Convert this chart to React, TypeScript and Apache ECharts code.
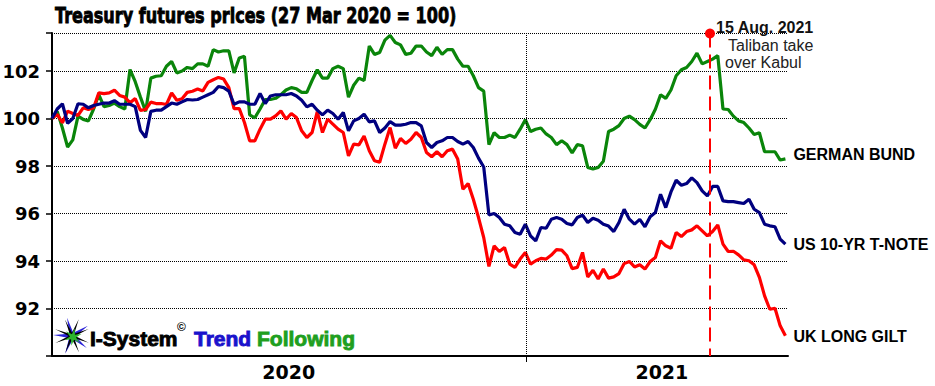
import React, { useEffect, useRef } from "react";
import * as echarts from "echarts";

// x values are days since 27 Mar 2020 (the index base date)
const STEP_DAYS = 4;
const SPAN_DAYS = 566;

const seriesNames = ["GERMAN BUND", "US 10-YR T-NOTE", "UK LONG GILT"];
const yearLabels = ["2020", "2021"];

const germanBund = [
  100.0, 100.3, 99.6, 98.8, 99.1, 100.1, 99.96, 99.9, 100.4, 101.0,
  100.5, 100.55, 100.65, 100.5, 100.4, 102.06, 101.55, 100.9, 100.3, 101.7,
  101.78, 101.8, 102.2, 102.4, 101.92, 102.0, 102.15, 102.1, 102.3, 102.3,
  102.2, 102.9, 102.8, 102.85, 102.85, 101.92, 102.55, 102.62, 100.15, 100.03,
  100.4, 100.8, 100.8, 100.85, 101.0, 101.2, 101.3, 101.25, 101.1, 101.1,
  101.6, 102.05, 101.7, 101.7, 102.1, 102.2, 102.1, 100.9, 101.4, 101.7,
  101.6, 103.05, 102.7, 102.78, 103.3, 103.5, 103.2, 103.1, 102.7, 102.75,
  103.05, 103.05, 102.8, 102.65, 103.0, 102.7, 102.9, 102.9, 102.5, 102.2,
  102.2, 101.8, 101.3, 101.15, 98.9, 99.4, 99.2, 99.2, 99.3, 99.2,
  99.55, 99.95, 99.45, 99.55, 99.6, 99.35, 99.2, 98.9, 99.06, 98.9,
  98.55, 98.9, 98.85, 97.94, 97.87, 97.94, 98.2, 99.45, 99.55, 99.7,
  100.0, 100.1, 99.95, 99.75, 99.6, 99.95, 100.39, 101.0, 100.85, 101.2,
  101.8, 102.05, 102.15, 102.4, 102.75, 102.3, 102.4, 102.5, 102.65, 100.4,
  100.38, 100.1, 99.9, 99.83, 99.6, 99.33, 99.4, 98.6, 98.6, 98.6,
  98.25, 98.3,
];

const usNote = [
  100.0, 100.4, 100.62, 99.8, 100.0, 100.62, 100.6, 100.45, 100.55, 100.6,
  100.65, 100.65, 100.75, 100.6, 100.6, 100.6, 100.5, 99.5, 99.2, 100.3,
  100.35, 100.35, 100.5, 100.65, 100.6, 100.7, 100.8, 100.78, 100.8, 100.9,
  101.0, 101.1, 101.35, 101.3, 101.15, 100.6, 100.7, 100.7, 100.6, 100.6,
  101.05, 100.63, 100.95, 101.0, 101.0, 101.0, 101.05, 100.95, 100.77, 100.49,
  100.6, 100.35, 100.15, 100.35, 100.21, 99.97, 100.25, 99.48, 99.9, 100.0,
  100.18, 99.86, 99.9, 99.41, 99.6, 99.87, 99.72, 99.72, 99.76, 99.83,
  99.83, 99.69, 98.99, 98.78, 98.99, 99.06, 99.2, 99.2, 99.03, 98.92,
  99.03, 98.78, 98.33, 97.96, 95.94, 96.0, 95.83, 95.55, 95.48, 95.2,
  95.13, 95.55, 95.06, 94.85, 95.41, 95.38, 95.76, 95.83, 95.76, 95.58,
  95.52, 95.83, 95.93, 95.62, 95.8, 95.72, 95.55, 95.47, 95.24, 95.62,
  96.18, 95.76, 95.55, 95.75, 95.44, 95.86, 96.04, 96.81, 96.25, 96.91,
  97.4, 97.19, 97.26, 97.5, 97.3, 96.95, 96.74, 97.14, 97.14, 96.53,
  96.5, 96.5, 96.46, 96.42, 96.6, 96.18, 96.04, 95.55, 95.48, 95.44,
  94.92, 94.71,
];

const ukGilt = [
  100.0, 100.17, 99.82, 100.31, 100.21, 100.13, 100.45, 100.38, 100.45, 101.08,
  101.05, 101.08, 101.19, 100.97, 100.9, 100.66, 100.84, 100.34, 100.38, 100.69,
  100.63, 100.63, 100.59, 101.08, 100.77, 100.83, 101.1, 101.15, 101.24, 101.16,
  101.52, 101.63, 101.73, 101.66, 101.3, 100.42, 100.42, 99.83, 99.06, 99.06,
  99.55, 99.97, 99.97, 100.11, 100.32, 99.97, 100.21, 100.04, 99.48, 99.2,
  99.41, 100.29, 99.41, 99.97, 99.76, 99.55, 99.41, 98.43, 98.92, 98.89,
  99.26, 98.64, 98.22, 98.16, 98.92, 99.62, 98.75, 99.16, 98.95, 99.13,
  99.41, 99.2, 98.57, 98.39, 98.6, 98.39, 98.64, 98.71, 98.29, 97.02,
  97.26, 96.6, 95.83, 94.99, 93.77, 94.64, 94.4, 94.57, 93.87, 93.73,
  94.08, 94.36, 93.87, 94.01, 94.11, 94.08, 94.25, 94.48, 94.46, 94.22,
  93.68, 93.73, 94.36, 93.33, 93.61, 93.24, 93.66, 93.28, 93.33, 93.47,
  93.89, 93.98, 93.75, 93.84, 93.66, 93.98, 94.15, 94.85, 94.64, 94.54,
  95.2, 95.03, 95.24, 95.31, 95.48, 95.27, 95.06, 95.24, 95.52, 94.71,
  94.4, 94.41, 94.26, 94.05, 94.01, 93.84, 93.31, 92.53, 91.97, 92.01,
  91.27, 90.85,
];

const DIVIDER_DAY = 365; // one year after base date
const EVENT_DAY = 506; // 15 Aug 2021
const YEAR_LABEL_DAYS = [182, 469];

const toPairs = (vals: number[]) => vals.map((v, i) => [i * STEP_DAYS, v]);

function starPoints(cx: number, cy: number, n: number, ro: number, ri: number, rotDeg: number) {
  const pts: number[][] = [];
  for (let k = 0; k < n * 2; k++) {
    const r = k % 2 === 0 ? ro : ri;
    const a = ((rotDeg + (k * 180) / n) * Math.PI) / 180;
    pts.push([cx + r * Math.sin(a), cy - r * Math.cos(a)]);
  }
  return pts;
}

export default function App() {
  const ref = useRef<HTMLDivElement>(null);
  useEffect(() => {
    if (!ref.current) return;
    const chart = echarts.init(ref.current, null, { renderer: "svg" });
    const labelFont = '"Liberation Sans", Arial, sans-serif';
    const lineDefs = [
      { name: seriesNames[0], data: germanBund, color: "#0a850a", offset: [0, -4] },
      { name: seriesNames[2], data: ukGilt, color: "#ff0000", offset: [0, 1] },
      { name: seriesNames[1], data: usNote, color: "#00007f", offset: [0, 0] },
    ];
    const series: any[] = lineDefs.map((d) => ({
      type: "line",
      name: d.name,
      data: toPairs(d.data),
      showSymbol: false,
      symbol: "none",
      lineStyle: { color: d.color, width: 3.2 },
      itemStyle: { color: d.color },
      silent: true,
      endLabel: {
        show: true,
        formatter: d.name,
        color: "#000",
        fontFamily: labelFont,
        fontWeight: "bold",
        fontSize: 16,
        distance: 8,
        offset: d.offset,
      },
    }));
    series[0].markLine = {
      silent: true,
      symbol: ["none", "none"],
      label: { show: false },
      lineStyle: { color: "#000", type: "dotted", width: 1 },
      data: [{ xAxis: DIVIDER_DAY }],
    };
    series[1].markLine = {
      silent: true,
      symbol: ["circle", "none"],
      symbolSize: 10,
      label: { show: false },
      itemStyle: { color: "#ff0000" },
      lineStyle: { color: "#ff0000", type: [14, 7], width: 2 },
      data: [[{ coord: [EVENT_DAY, 103.58] }, { coord: [EVENT_DAY, 90] }]],
    };

    const cx = 72, cy = 336;
    const heavy = (fill: string) => ({ fill, stroke: fill, lineWidth: 0.9 });
    chart.setOption({
      animation: false,
      backgroundColor: "#ffffff",
      grid: { left: 52, right: 147, top: 33, bottom: 30, containLabel: false, outerBoundsMode: "none" },
      xAxis: {
        type: "value",
        min: 0,
        max: SPAN_DAYS,
        axisLine: { show: true, lineStyle: { color: "#000", width: 2 } },
        axisTick: { show: true, customValues: [DIVIDER_DAY], length: 6, lineStyle: { color: "#000", width: 1 } },
        axisLabel: {
          customValues: YEAR_LABEL_DAYS,
          formatter: (v: number) => (v < DIVIDER_DAY ? yearLabels[0] : yearLabels[1]),
          color: "#000",
          fontFamily: '"DejaVu Sans", sans-serif',
          fontWeight: "bold",
          fontSize: 19,
          margin: 6,
        },
        splitLine: { show: false },
      },
      yAxis: {
        type: "value",
        min: 90,
        max: 103.6,
        interval: 2,
        axisLine: { show: true, lineStyle: { color: "#000", width: 2 } },
        axisTick: { show: true, length: 6, lineStyle: { color: "#000", width: 1.5 } },
        axisLabel: {
          formatter: (v: number) => (v === 90 || v % 2 !== 0 ? "" : String(v)),
          color: "#000",
          fontFamily: '"DejaVu Sans", sans-serif',
          fontWeight: "bold",
          fontSize: 18,
          margin: 12,
        },
        splitLine: { show: true, lineStyle: { color: "#000", type: "dotted", width: 1 } },
      },
      series,
      graphic: [
        {
          type: "text",
          x: 55,
          y: 16,
          scaleX: 0.73,
          style: {
            text: "Treasury futures prices (27 Mar 2020 = 100)",
            font: 'bold 22px "DejaVu Sans", sans-serif',
            ...heavy("#000"),
            textVerticalAlign: "middle",
          },
        },
        {
          type: "text",
          x: 716,
          y: 27,
          style: { text: "15 Aug. 2021", font: `bold 16px ${labelFont}`, fill: "#111", textVerticalAlign: "middle" },
        },
        {
          type: "text",
          x: 728,
          y: 45,
          style: { text: "Taliban take", font: `16px ${labelFont}`, fill: "#222", textVerticalAlign: "middle" },
        },
        {
          type: "text",
          x: 725,
          y: 62,
          style: { text: "over Kabul", font: `16px ${labelFont}`, fill: "#222", textVerticalAlign: "middle" },
        },
        { type: "polygon", shape: { points: starPoints(cx, cy, 5, 19, 3.5, 345) }, style: { fill: "#2a22d8" } },
        { type: "polygon", shape: { points: starPoints(cx, cy, 8, 18, 3.2, 22) }, style: { fill: "#000" } },
        { type: "polygon", shape: { points: starPoints(cx + 1, cy + 1, 6, 9, 3, 10) }, style: { fill: "#2bb52b" } },
        {
          type: "text",
          x: 90,
          y: 338,
          style: { text: "I-System", font: `bold 21px ${labelFont}`, ...heavy("#000"), textVerticalAlign: "middle" },
        },
        {
          type: "text",
          x: 177,
          y: 327,
          style: { text: "©", font: `bold 12px ${labelFont}`, fill: "#000", textVerticalAlign: "middle" },
        },
        {
          type: "text",
          x: 194,
          y: 338,
          style: { text: "Trend", font: `bold 21px ${labelFont}`, ...heavy("#1a12cc"), textVerticalAlign: "middle" },
        },
        {
          type: "text",
          x: 257,
          y: 338,
          style: { text: "Following", font: `bold 21px ${labelFont}`, ...heavy("#1f9f1f"), textVerticalAlign: "middle" },
        },
      ],
    });
    return () => chart.dispose();
  }, []);
  return (
    <div
      ref={ref}
      style={{ position: "absolute", left: 0, top: 0, width: 935, height: 386, background: "#fff" }}
    />
  );
}
